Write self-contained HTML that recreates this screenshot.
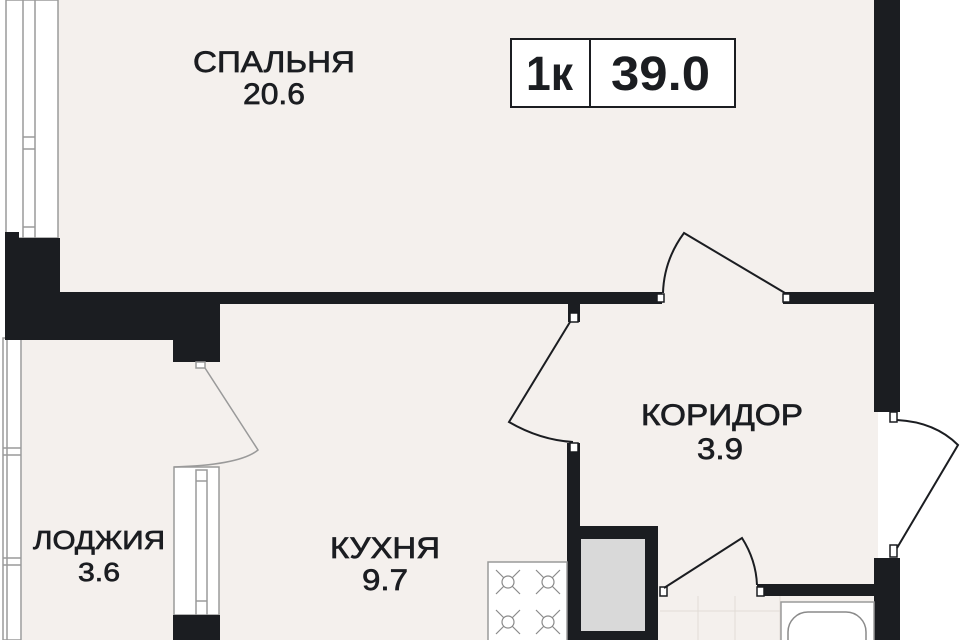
<!DOCTYPE html>
<html><head><meta charset="utf-8"><style>
html,body{margin:0;padding:0;background:#fff;}
svg{display:block;}
text{font-family:"Liberation Sans",sans-serif;fill:#1b1d21;}
</style></head><body>
<svg width="960" height="640" viewBox="0 0 960 640" xmlns="http://www.w3.org/2000/svg">
<rect x="0" y="0" width="960" height="640" fill="#fff"/>
<rect x="58" y="0" width="820" height="640" fill="#f4f0ed"/>
<rect x="22" y="338" width="40" height="302" fill="#f4f0ed"/>
<g stroke="#9a9a9a" stroke-width="1.5" fill="#fff">
<rect x="6" y="0" width="52" height="238"/>
<line x1="23" y1="0" x2="23" y2="238"/>
<line x1="35" y1="0" x2="35" y2="238"/>
<line x1="23" y1="137" x2="35" y2="137"/>
<line x1="23" y1="149" x2="35" y2="149"/>
<line x1="23" y1="227" x2="35" y2="227"/>
</g>
<g stroke="#9a9a9a" stroke-width="1.5" fill="#fff">
<rect x="3" y="338" width="18" height="302"/>
<line x1="7" y1="338" x2="7" y2="640"/>
<line x1="3" y1="448" x2="21" y2="448"/>
<line x1="3" y1="455" x2="21" y2="455"/>
<line x1="3" y1="558" x2="21" y2="558"/>
<line x1="3" y1="565" x2="21" y2="565"/>
</g>
<g stroke="#9a9a9a" stroke-width="1.5" fill="#fff">
<rect x="174" y="467" width="45" height="148"/>
<rect x="196" y="470" width="11" height="145"/>
<line x1="196" y1="481" x2="207" y2="481"/>
<line x1="196" y1="601" x2="207" y2="601"/>
</g>
<g fill="#1b1d21">
<rect x="5" y="232" width="14" height="10"/>
<rect x="5" y="238" width="55" height="102"/>
<rect x="60" y="292" width="160" height="48"/>
<rect x="173" y="292" width="47" height="70"/>
<rect x="220" y="292" width="442" height="12"/>
<rect x="783" y="292" width="95" height="12"/>
<rect x="874" y="0" width="26" height="412"/>
<rect x="874" y="558" width="26" height="82"/>
<rect x="568" y="304" width="12" height="18"/>
<rect x="567" y="443" width="13" height="197"/>
<rect x="567" y="526" width="91" height="114"/>
<rect x="757" y="584" width="117" height="12"/>
<rect x="173" y="615" width="47" height="25"/>
</g>
<rect x="581" y="539" width="64" height="92" fill="#d9d9d9"/>
<g fill="#fff" stroke="#1b1d21" stroke-width="1.5">
<rect x="657" y="294" width="7" height="8"/>
<rect x="783" y="294" width="7" height="8"/>
<rect x="570" y="313" width="8" height="9"/>
<rect x="570" y="443" width="8" height="9"/>
<rect x="660" y="587" width="7" height="9"/>
<rect x="757" y="587" width="7" height="9"/>
<rect x="890" y="412" width="7" height="10"/>
<rect x="890" y="545" width="7" height="12"/>
<rect x="196" y="362" width="9" height="6" stroke="#9a9a9a"/>
</g>
<g fill="none" stroke="#1b1d21" stroke-width="2">
<path d="M785 293 L684 233 Q664 260 663 293"/>
<path d="M570 322 L509 422 Q540 440 573 442"/>
<path d="M664 588 L742 538 Q756 560 757 585"/>
<path d="M897 548 L958 445 Q935 422 897 420"/>
</g>
<path d="M205 368 L258 450 Q240 465 174 467" fill="none" stroke="#9a9a9a" stroke-width="1.5"/>
<g stroke="#e2dcd7" stroke-width="1">
<line x1="660" y1="611" x2="780" y2="611"/>
<line x1="698" y1="596" x2="698" y2="640"/>
<line x1="735" y1="596" x2="735" y2="640"/>
<line x1="780" y1="596" x2="780" y2="640"/>
</g>
<rect x="781" y="602" width="93" height="40" fill="#fff" stroke="#9a9a9a" stroke-width="1.5"/>
<rect x="788" y="612" width="78" height="60" rx="20" fill="#fff" stroke="#8a8a8a" stroke-width="1.5"/>
<rect x="488" y="562" width="79" height="80" fill="#fff" stroke="#9a9a9a" stroke-width="1.5"/>
<g stroke="#8a8a8a" stroke-width="1.2" fill="none">
<g transform="translate(508,582)"><circle r="6"/><path d="M-12 -12 L-4 -4 M12 -12 L4 -4 M-12 12 L-4 4 M12 12 L4 4"/></g>
<g transform="translate(548,582)"><circle r="6"/><path d="M-12 -12 L-4 -4 M12 -12 L4 -4 M-12 12 L-4 4 M12 12 L4 4"/></g>
<g transform="translate(508,622)"><circle r="6"/><path d="M-12 -12 L-4 -4 M12 -12 L4 -4 M-12 12 L-4 4 M12 12 L4 4"/></g>
<g transform="translate(548,622)"><circle r="6"/><path d="M-12 -12 L-4 -4 M12 -12 L4 -4 M-12 12 L-4 4 M12 12 L4 4"/></g>
</g>
<rect x="511" y="39" width="224" height="68" fill="#fff" stroke="#1b1d21" stroke-width="2"/>
<line x1="590" y1="39" x2="590" y2="107" stroke="#1b1d21" stroke-width="2"/>
<text x="526" y="90" font-size="48" font-weight="bold" textLength="47" lengthAdjust="spacingAndGlyphs">1к</text>
<text x="611" y="90" font-size="48" font-weight="bold" textLength="99" lengthAdjust="spacingAndGlyphs">39.0</text>
<g font-size="30" stroke="#1b1d21" stroke-width="0.7" lengthAdjust="spacingAndGlyphs">
<text x="193" y="72" textLength="162" lengthAdjust="spacingAndGlyphs">СПАЛЬНЯ</text>
<text x="243" y="104" textLength="62" lengthAdjust="spacingAndGlyphs">20.6</text>
<text x="641" y="425" textLength="162" lengthAdjust="spacingAndGlyphs">КОРИДОР</text>
<text x="697" y="459" textLength="46" lengthAdjust="spacingAndGlyphs">3.9</text>
<text x="330" y="558" textLength="110" lengthAdjust="spacingAndGlyphs">КУХНЯ</text>
<text x="362" y="590" textLength="46" lengthAdjust="spacingAndGlyphs">9.7</text>
<text x="33" y="549" font-size="26" textLength="132" lengthAdjust="spacingAndGlyphs">ЛОДЖИЯ</text>
<text x="78" y="581" font-size="26" textLength="42" lengthAdjust="spacingAndGlyphs">3.6</text>
</g>
</svg>
</body></html>
